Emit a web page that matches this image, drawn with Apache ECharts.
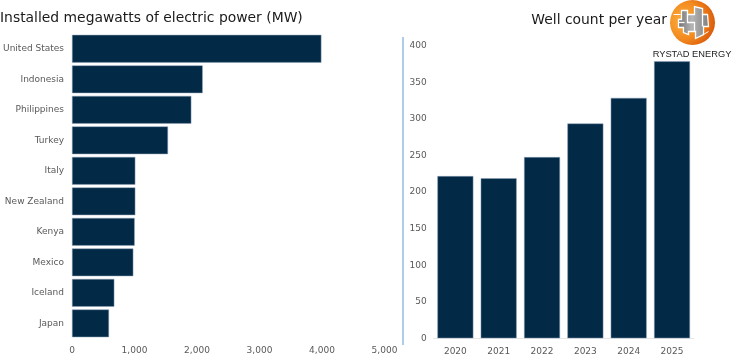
<!DOCTYPE html>
<html>
<head>
<meta charset="utf-8">
<script src="https://cdn.jsdelivr.net/npm/echarts@6/dist/echarts.min.js"></script>
<style>html,body{margin:0;padding:0;background:#fff}#c{width:737px;height:356px}</style>
</head>
<body>
<div id="c"></div>
<script>
var countries = ['United States','Indonesia','Philippines','Turkey','Italy','New Zealand','Kenya','Mexico','Iceland','Japan'];
var megawatts = [3990, 2091, 1909, 1536, 1013, 1013, 1003, 981, 677, 592];
var mwTicks = [0, 1000, 2000, 3000, 4000, 5000];
var years = ['2020','2021','2022','2023','2024','2025'];
var wellCounts = [222, 219, 248, 294, 329, 379];
var wellTicks = [0, 50, 100, 150, 200, 250, 300, 350, 400];

var barColor = '#022a47';
var labelColor = '#595959';
var font = 'DejaVu Sans';

var chart = echarts.init(document.getElementById('c'));
chart.setOption({
  animation: false,
  textStyle: {fontFamily: font},
  grid: [
    {left: 72, right: 352.5, top: 33.5, bottom: 17.4, containLabel: false, outerBoundsMode: 'none'},
    {left: 433.7, right: 43.3, top: 46, bottom: 17.7, containLabel: false, outerBoundsMode: 'none'}
  ],
  xAxis: [
    {gridIndex: 0, type: 'value', min: mwTicks[0], max: mwTicks[mwTicks.length-1], interval: 1000,
     axisLine: {show: false}, axisTick: {show: false}, splitLine: {show: false},
     axisLabel: {color: labelColor, fontSize: 9, fontFamily: font, margin: 8,
       formatter: function(v){ return v.toLocaleString('en-US'); }}},
    {gridIndex: 1, type: 'category', data: years,
     axisLine: {show: true, lineStyle: {color: '#e6e6e6', width: 1}}, axisTick: {show: false},
     axisLabel: {color: labelColor, fontSize: 9, fontFamily: font, margin: 9}}
  ],
  yAxis: [
    {gridIndex: 0, type: 'category', data: countries, inverse: true,
     axisLine: {show: false}, axisTick: {show: false},
     axisLabel: {color: labelColor, fontSize: 9, fontFamily: font, margin: 8}},
    {gridIndex: 1, type: 'value', min: wellTicks[0], max: wellTicks[wellTicks.length-1], interval: 50,
     axisLine: {show: false}, axisTick: {show: false}, splitLine: {show: false},
     axisLabel: {color: labelColor, fontSize: 9, fontFamily: font, margin: 7}}
  ],
  series: [
    {type: 'bar', xAxisIndex: 0, yAxisIndex: 0, data: megawatts, barCategoryGap: '9%',
     itemStyle: {color: barColor, borderColor: '#8fa3b8', borderWidth: 0.5}},
    {type: 'bar', xAxisIndex: 1, yAxisIndex: 1, data: wellCounts, barCategoryGap: '17%',
     itemStyle: {color: barColor, borderColor: '#8fa3b8', borderWidth: 0.5}}
  ],
  graphic: [
    {type: 'text', x: 0, y: 18, style: {text: 'Installed megawatts of electric power (MW)', fill: '#1a1a1a', font: '13.9px "DejaVu Sans"', textVerticalAlign: 'middle'}},
    {type: 'text', x: 667, y: 20, style: {text: 'Well count per year', fill: '#1a1a1a', font: '13.9px "DejaVu Sans"', textAlign: 'right', textVerticalAlign: 'middle'}},
    {type: 'line', shape: {x1: 403, y1: 37, x2: 403, y2: 345}, style: {stroke: '#5b9bd5', lineWidth: 1}},
    {type: 'group', x: 692.5, y: 22.5, children: [
      {type: 'circle', shape: {cx: 0, cy: 0, r: 22.5}, style: {fill: new echarts.graphic.RadialGradient(0.3, 0.45, 0.75, [{offset: 0, color: '#fcb040'}, {offset: 0.55, color: '#f38a1f'}, {offset: 1, color: '#d65308'}])}},
      {type: 'polygon', shape: {points: [[-11,-12],[-5,-12],[-5,-8],[2,-8],[2,-16],[10,-14],[10,-8],[15,-8],[16,4],[11,4],[11,12],[3,16],[3,9],[-4,9],[-4,12],[-9,10],[-9,5],[-14,5],[-14,-3],[-11,-3]]}, style: {fill: new echarts.graphic.LinearGradient(0,0,1,0,[{offset:0,color:'#6f6f6f'},{offset:0.45,color:'#b5b5b5'},{offset:1,color:'#7e7e7e'}]), stroke: '#fff', lineWidth: 1.3}},
      {type: 'polyline', shape: {points: [[-5,-8],[-5,0],[2,0],[2,9]]}, style: {stroke: '#fff', lineWidth: 1.3, fill: null}},
      {type: 'polyline', shape: {points: [[-14,0],[-8,0]]}, style: {stroke: '#fff', lineWidth: 1.3, fill: null}},
      {type: 'polyline', shape: {points: [[10,-8],[10,4]]}, style: {stroke: '#fff', lineWidth: 1.3, fill: null}},
      {type: 'polyline', shape: {points: [[-19,-8],[-12,-8]]}, style: {stroke: '#fff', lineWidth: 1, fill: null}},
      {type: 'polyline', shape: {points: [[11,12],[16,9]]}, style: {stroke: '#fff', lineWidth: 1, fill: null}}
    ]},
    {type: 'text', x: 692, y: 54, style: {text: 'RYSTAD ENERGY', fill: '#222', font: '9.3px "Liberation Sans"', textAlign: 'center', textVerticalAlign: 'middle'}}
  ]
});
</script>
</body>
</html>
